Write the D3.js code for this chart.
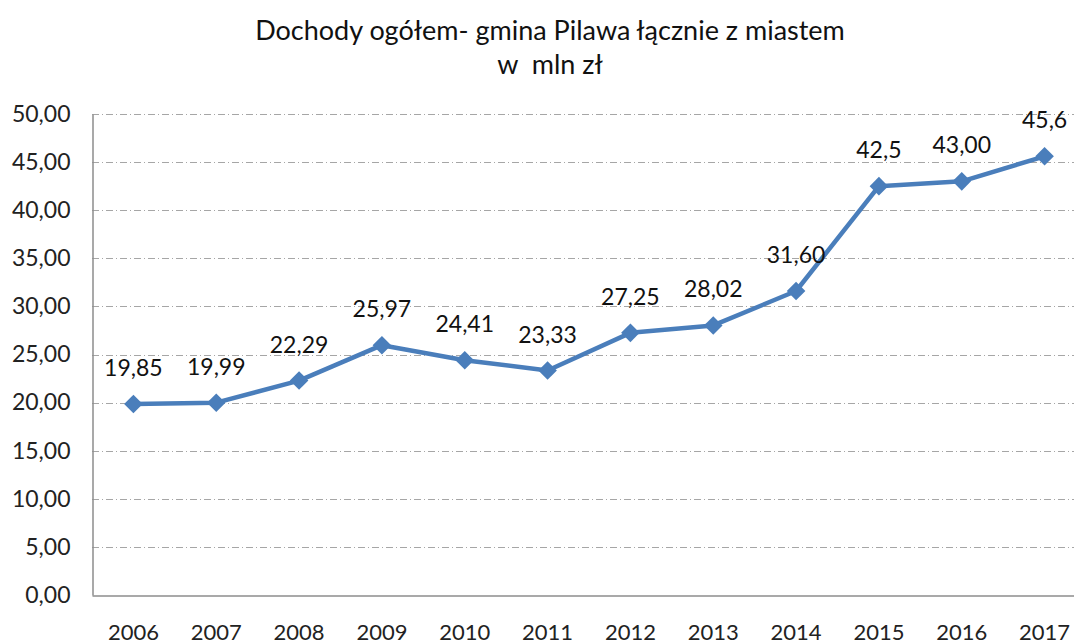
<!DOCTYPE html>
<html>
<head>
<meta charset="utf-8">
<script src="https://cdn.jsdelivr.net/npm/d3@7"></script>
<style>
  body { margin: 0; background: #fff; }
  svg { display: block; font-family: Lato, "Open Sans", sans-serif; }
</style>
</head>
<body>
<svg id="chart" width="1074" height="644"></svg>
<script>
// data
const years = ["2006","2007","2008","2009","2010","2011","2012","2013","2014","2015","2016","2017"];
const values = [19.85, 19.99, 22.29, 25.97, 24.41, 23.33, 27.25, 28.02, 31.60, 42.5, 43.00, 45.6];
const valueLabels = ["19,85","19,99","22,29","25,97","24,41","23,33","27,25","28,02","31,60","42,5","43,00","45,6"];
const yTicks = [0, 5, 10, 15, 20, 25, 30, 35, 40, 45, 50];
const titleLines = ["Dochody ogółem- gmina Pilawa łącznie z miastem", "w\u00a0 mln zł"];

// config
const width = 1074, height = 644;
const plot = {left: 92, right: 1086, top: 114, bottom: 595};
const blue = "#4a7ebb";

const svg = d3.select("#chart");

const x = d3.scaleBand().domain(years).range([plot.left, plot.right]);
const y = d3.scaleLinear().domain([0, 50]).range([plot.bottom, plot.top]);
const cx = d => x(d) + x.bandwidth() / 2;

// title
svg.append("g").selectAll("text")
    .data(titleLines)
    .join("text")
    .attr("x", 550)
    .attr("y", (d, i) => 40 + i * 34)
    .attr("text-anchor", "middle")
    .attr("font-size", 27)
    .attr("fill", "#111")
    .text(d => d);

// gridlines
svg.append("g").selectAll("line")
    .data(yTicks.filter(d => d > 0))
    .join("line")
    .attr("x1", plot.left).attr("x2", plot.right)
    .attr("y1", d => Math.round(y(d)) + 0.5).attr("y2", d => Math.round(y(d)) + 0.5)
    .attr("stroke", "#a6a6a6")
    .attr("stroke-width", 1)
    .attr("stroke-dasharray", "7,3,1,3");

// axes
const yAxis = d3.axisLeft(y).tickValues(yTicks).tickSize(0).tickPadding(22)
    .tickFormat(d => d3.format(".2f")(d).replace(".", ","));
const gy = svg.append("g").attr("transform", `translate(${plot.left + 0.5},0)`).call(yAxis);
gy.select(".domain").attr("stroke", "#8c8c8c").attr("stroke-width", 1.5);
gy.selectAll("text").attr("font-size", 23).attr("fill", "#222").attr("font-family", "Lato, sans-serif");

const xAxis = d3.axisBottom(x).tickSize(0).tickPadding(29);
const gx = svg.append("g").attr("transform", `translate(0,${plot.bottom + 0.5})`).call(xAxis);
gx.select(".domain").attr("stroke", "#8c8c8c").attr("stroke-width", 1.5);
gx.selectAll("text").attr("font-size", 22).attr("fill", "#222").attr("font-family", "Lato, sans-serif");

// line
const line = d3.line().x((d, i) => cx(years[i])).y(d => y(d));
svg.append("path")
    .datum(values)
    .attr("d", line)
    .attr("fill", "none")
    .attr("stroke", blue)
    .attr("stroke-width", 4.5)
    .attr("stroke-linejoin", "round");

// markers
svg.append("g").selectAll("path")
    .data(values)
    .join("path")
    .attr("transform", (d, i) => `translate(${cx(years[i])},${y(d)})`)
    .attr("d", d3.symbol(d3.symbolDiamond2, 220)())
    .attr("fill", blue);

// value labels
svg.append("g").selectAll("text")
    .data(values)
    .join("text")
    .attr("x", (d, i) => cx(years[i]))
    .attr("y", d => y(d) - 28)
    .attr("text-anchor", "middle")
    .attr("font-size", 23)
    .attr("fill", "#111")
    .text((d, i) => valueLabels[i]);
</script>
</body>
</html>
